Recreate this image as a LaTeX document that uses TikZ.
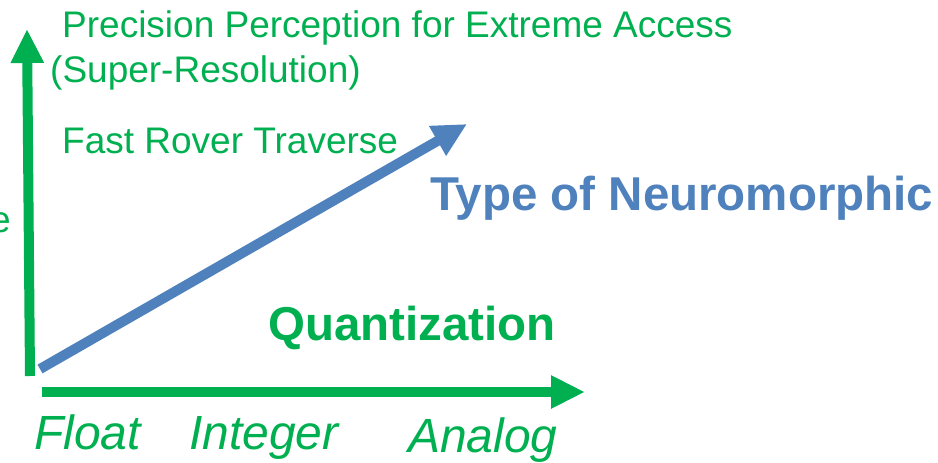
\documentclass[tikz,border=0pt]{standalone}
\usepackage{fontspec}
\setmainfont{Liberation Sans}
\usetikzlibrary{arrows.meta}
\definecolor{pgreen}{HTML}{00B050}
\definecolor{pblue}{HTML}{4F81BD}
\begin{document}
\begin{tikzpicture}[x=1pt,y=-1pt,
  axis/.style={draw=pgreen,line width=10pt,-{Triangle[length=34pt,width=31pt]}},
  diag/.style={draw=pblue,line width=10pt,-{Triangle[length=34pt,width=32pt]}},
  gtext/.style={text=pgreen,inner sep=0pt,anchor=base west,font=\fontsize{37}{40}\selectfont},
  btitle/.style={inner sep=0pt,anchor=base west,font=\fontsize{47.5}{50}\selectfont\bfseries},
  itext/.style={text=pgreen,inner sep=0pt,anchor=base west,font=\fontsize{48}{50}\selectfont\itshape}]
\useasboundingbox (0,0) rectangle (938,463);
\coordinate (vs) at (30,376);
\coordinate (ve) at (27,29);
\coordinate (hs) at (42,392);
\coordinate (he) at (585,392);
\coordinate (ds) at (40,369);
\coordinate (de) at (467,124);
\draw[axis] (vs) -- (ve);
\draw[axis] (hs) -- (he);
\draw[diag] (ds) -- (de);
\node[gtext] (t1) at (62,37) {Precision Perception for Extreme Access};
\node[gtext] (t2) at (50,82) {(Super-Resolution)};
\node[gtext] (t3) at (62,153) {Fast Rover Traverse};
\node[gtext,anchor=base east] (te) at (11,232) {e};
\node[btitle,text=pblue] (tn) at (430,210) {Type of Neuromorphic};
\node[btitle,text=pgreen] (tq) at (268,340) {Quantization};
\node[itext] (f) at (34,449) {Float};
\node[itext] (i) at (189,449) {Integer};
\node[itext] (a) at (408,452) {Analog};
\end{tikzpicture}
\end{document}
